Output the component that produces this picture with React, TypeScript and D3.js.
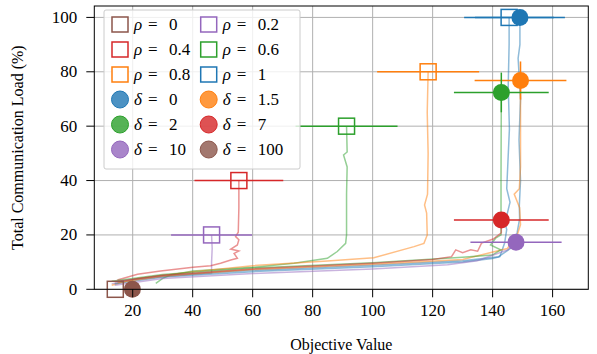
import React from "react";
import * as d3 from "d3";

const W = 597, H = 354;
const M = { left: 94.3, top: 6, right: 588.3, bottom: 289.3 };

const xTicks = [20, 40, 60, 80, 100, 120, 140, 160];
const yTicks = [0, 20, 40, 60, 80, 100];

const C = { blue: "#1f77b4", orange: "#ff7f0e", green: "#2ca02c", red: "#d62728", purple: "#9467bd", brown: "#8c564b" };

const rhoLabels = ["0", "0.2", "0.4", "0.6", "0.8", "1"];
const rhoColors = [C.brown, C.purple, C.red, C.green, C.orange, C.blue];
const rhoX = [14.2, 46.3, 55.4, 91.3, 118.5, 145.5];
const rhoY = [0, 20, 40, 60, 80, 100];
const rhoXErr = [0, 13.5, 14.8, 17, 17, 15];

const deltaLabels = ["0", "1.5", "2", "7", "10", "100"];
const deltaColors = [C.blue, C.orange, C.green, C.red, C.purple, C.brown];
const deltaX = [149.1, 149.3, 142.9, 142.9, 147.8, 19.9];
const deltaY = [100, 76.8, 72.4, 25.5, 17.3, 0];
const deltaXErr = [15, 15.3, 15.8, 15.8, 15.2, 0];
const deltaYErr = [0, 7, 7.3, 0, 0, 0];

const traceRho02: [number, number][] = [[13, 2], [20, 3.5], [30, 4.6], [40, 5.5], [46.3, 6], [46.3, 10], [46.5, 15], [46.3, 20]];
const traceRho04: [number, number][] = [[14.9, 3.4], [21.6, 5.5], [29.3, 6.7], [40.1, 8.1], [46, 8.7], [49.3, 9.6], [52.7, 10.8], [54.9, 11.4], [53.8, 13.2], [55.4, 14.1], [52.7, 14.8], [54.9, 16.3], [55.4, 18.2], [54.3, 19.4], [55.2, 21], [55.4, 30], [55.4, 40]];
const traceRho06: [number, number][] = [[27.7, 2.2], [30, 4], [32.7, 5.3], [40.1, 6.7], [60, 8.1], [73.8, 9.6], [84.9, 11.4], [88.2, 13.9], [89.3, 15.1], [91, 16.9], [91.3, 20], [91.3, 35], [91.5, 45], [90.3, 49.4], [91.5, 50.5], [91.3, 60]];
const traceRho08: [number, number][] = [[13, 1.5], [21.6, 4], [40.1, 6.5], [60, 8.7], [84.9, 10.4], [100.4, 11.6], [113.8, 15.7], [117.1, 16.9], [118.2, 20], [118, 28], [117.3, 31], [118.3, 35], [118.5, 50], [118.2, 65], [118.5, 80]];
const traceRho1: [number, number][] = [[14, 2], [30, 4.5], [60, 6.5], [100, 8.3], [130, 10], [140, 11.3], [142.4, 12], [144, 17], [144.7, 22], [144.2, 24], [144.7, 27], [145.8, 32], [144.7, 37], [145.6, 59], [145.2, 75], [145.5, 90], [145.5, 100]];
const traceDelta0: [number, number][] = [[16, 3], [30, 5], [60, 7], [100, 8.8], [130, 10.5], [142, 12], [147.2, 16], [148.2, 21], [149, 26], [148.9, 30.7], [149.3, 40], [148.8, 55], [149.3, 70], [148.5, 85], [149.1, 90], [149.1, 100]];
const traceDelta15: [number, number][] = [[15, 2.5], [30, 4.8], [60, 7.3], [100, 9.2], [130, 11], [144.9, 15], [148.2, 19.9], [149.3, 23.8], [149, 30], [147.2, 35], [148.9, 37], [149.3, 45], [149.3, 60], [149.3, 76.8]];
const traceDelta2: [number, number][] = [[13, 3], [30, 5.4], [60, 7.8], [100, 9.8], [130, 11.8], [139.9, 12.6], [142.7, 14.5], [139.3, 16.3], [141, 18.8], [142.8, 20], [142.8, 40], [142.9, 72.4]];
const traceDelta7: [number, number][] = [[14, 2.8], [30, 5.2], [60, 7.5], [100, 9.6], [120, 11], [126.3, 12], [127.7, 14.5], [130, 13.5], [132.7, 14.5], [135, 14], [136.3, 17], [140.2, 18.5], [142.9, 20.8], [142.9, 25.5]];
const traceDelta10: [number, number][] = [[14, 1.5], [30, 4], [60, 5.8], [100, 7.5], [125, 9], [134.9, 10.5], [140, 12.5], [145, 14.5], [147.8, 17.3]];

const traces: { data: [number, number][]; color: string }[] = [
  { data: traceRho02, color: C.purple },
  { data: traceRho04, color: C.red },
  { data: traceRho06, color: C.green },
  { data: traceRho08, color: C.orange },
  { data: traceRho1, color: C.blue },
  { data: traceDelta0, color: C.blue },
  { data: traceDelta15, color: C.orange },
  { data: traceDelta2, color: C.green },
  { data: traceDelta7, color: C.red },
  { data: traceDelta10, color: C.purple },
];

const FONT = "'Liberation Serif', 'Times New Roman', serif";

export default function App() {
  const x = d3.scaleLinear().domain([7.2, 171.9]).range([M.left, M.right]);
  const y = d3.scaleLinear().domain([0, 104.2]).range([M.bottom, M.top]);
  const line = d3.line<[number, number]>().x((d) => x(d[0])).y((d) => y(d[1]));
  const SQ = 16, R = 8.5;

  const legendItems: { kind: "sq" | "c"; sym: string; val: string; color: string }[] = [];
  for (let i = 0; i < 6; i++) legendItems.push({ kind: "sq", sym: "ρ", val: rhoLabels[i], color: rhoColors[i] });
  for (let i = 0; i < 6; i++) legendItems.push({ kind: "c", sym: "δ", val: deltaLabels[i], color: deltaColors[i] });

  return (
    <svg width={W} height={H} style={{ position: "absolute", left: 0, top: 0, background: "#fff" }} fontFamily={FONT}>
      <defs>
        <clipPath id="plotclip">
          <rect x={M.left} y={M.top} width={M.right - M.left} height={M.bottom - M.top} />
        </clipPath>
      </defs>
      {xTicks.map((t) => (
        <line key={"gx" + t} x1={x(t)} x2={x(t)} y1={M.top} y2={M.bottom} stroke="#b0b0b0" strokeWidth={1} />
      ))}
      {yTicks.map((t) => (
        <line key={"gy" + t} x1={M.left} x2={M.right} y1={y(t)} y2={y(t)} stroke="#b0b0b0" strokeWidth={1} />
      ))}
      <g clipPath="url(#plotclip)">
        {traces.map((t, i) => (
          <path key={"tr" + i} d={line(t.data) || ""} fill="none" stroke={t.color} strokeOpacity={0.5} strokeWidth={1.5} />
        ))}
      </g>
      {rhoX.map((v, i) => (
        <g key={"rho" + i}>
          {rhoXErr[i] > 0 && (
            <line x1={x(v - rhoXErr[i])} x2={x(v + rhoXErr[i])} y1={y(rhoY[i])} y2={y(rhoY[i])} stroke={rhoColors[i]} strokeWidth={1.5} />
          )}
          <rect x={x(v) - SQ / 2} y={y(rhoY[i]) - SQ / 2} width={SQ} height={SQ} fill="none" stroke={rhoColors[i]} strokeWidth={1.5} />
        </g>
      ))}
      {deltaX.map((v, i) => (
        <g key={"del" + i}>
          {deltaXErr[i] > 0 && (
            <line x1={x(v - deltaXErr[i])} x2={x(v + deltaXErr[i])} y1={y(deltaY[i])} y2={y(deltaY[i])} stroke={deltaColors[i]} strokeWidth={1.5} />
          )}
          {deltaYErr[i] > 0 && (
            <line x1={x(v)} x2={x(v)} y1={y(deltaY[i] - deltaYErr[i])} y2={y(deltaY[i] + deltaYErr[i])} stroke={deltaColors[i]} strokeWidth={1.5} />
          )}
          <circle cx={x(v)} cy={y(deltaY[i])} r={R} fill={deltaColors[i]} />
        </g>
      ))}
      <rect x={M.left} y={M.top} width={M.right - M.left} height={M.bottom - M.top} fill="none" stroke="#000" strokeWidth={1} />
      {xTicks.map((t) => (
        <g key={"tx" + t}>
          <line x1={x(t)} x2={x(t)} y1={M.bottom} y2={M.bottom + 8} stroke="#000" strokeWidth={1} />
          <text x={x(t)} y={M.bottom + 27} textAnchor="middle" fontSize={17} fontFamily={FONT}>{t}</text>
        </g>
      ))}
      {yTicks.map((t) => (
        <g key={"ty" + t}>
          <line x1={M.left - 8} x2={M.left} y1={y(t)} y2={y(t)} stroke="#000" strokeWidth={1} />
          <text x={M.left - 17} y={y(t) + 5.5} textAnchor="end" fontSize={17} fontFamily={FONT}>{t}</text>
        </g>
      ))}
      <text x={(M.left + M.right) / 2} y={350} textAnchor="middle" fontSize={16} fontFamily={FONT}>Objective Value</text>
      <text transform={`translate(23,${(M.top + M.bottom) / 2}) rotate(-90)`} textAnchor="middle" fontSize={16} fontFamily={FONT}>Total Communication Load (%)</text>
      <rect x={104} y={10} width={196} height={159} rx={2} fill="#fff" fillOpacity={0.8} stroke="#cccccc" strokeWidth={1} />
      {legendItems.map((it, k) => {
        const col = k % 2;
        const row = Math.floor(k / 2);
        const cx = col === 0 ? 120 : 208.7;
        const cy = 24.5 + row * 25;
        const tx = cx + 14;
        return (
          <g key={"lg" + k}>
            {it.kind === "sq" ? (
              <rect x={cx - 8} y={cy - 7.5} width={16} height={15} fill="#fff" stroke={it.color} strokeWidth={1.5} />
            ) : (
              <circle cx={cx} cy={cy} r={8.5} fill={it.color} fillOpacity={0.8} stroke={it.color} strokeWidth={1} />
            )}
            <text x={tx} y={cy + 5.5} fontSize={17} fontFamily={FONT}>
              <tspan fontStyle="italic">{it.sym}</tspan>
              <tspan x={tx + 14}>=</tspan>
              <tspan x={tx + 35}>{it.val}</tspan>
            </text>
          </g>
        );
      })}
    </svg>
  );
}
